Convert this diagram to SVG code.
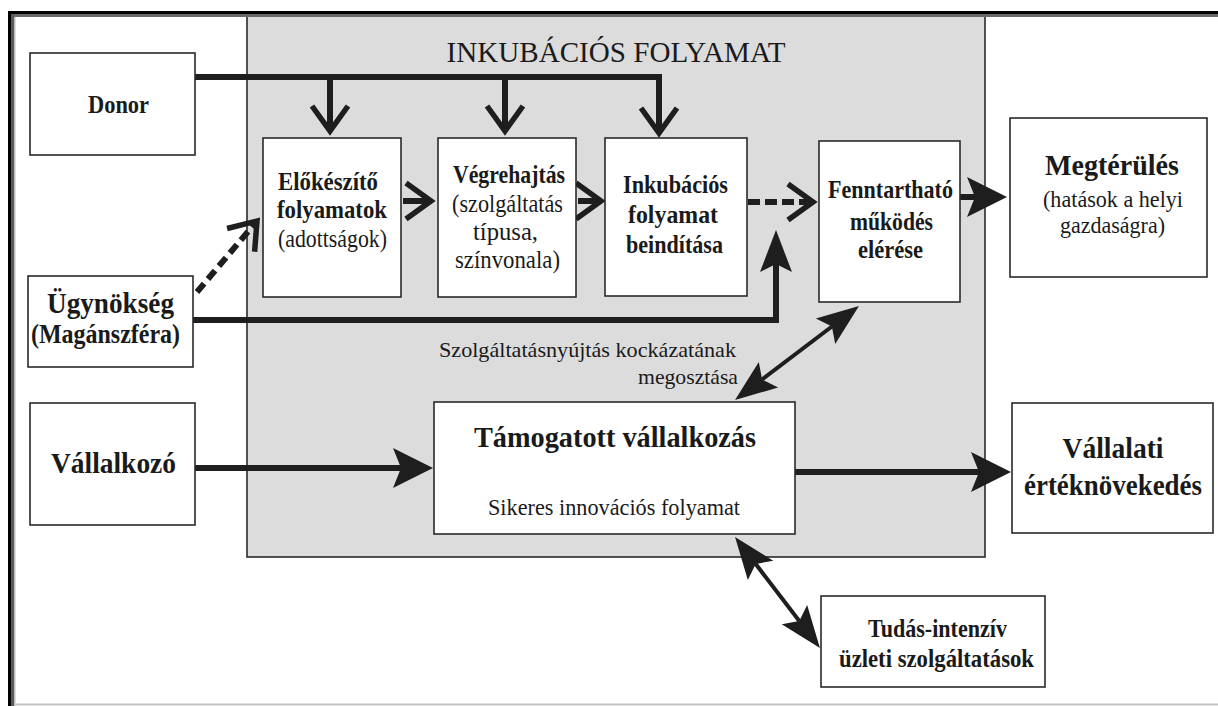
<svg xmlns="http://www.w3.org/2000/svg" width="1218" height="706" viewBox="0 0 1218 706">
<style>
.box{fill:#fff;stroke:#2a2a2a;stroke-width:1.6}
.t{font-family:"Liberation Serif","Times New Roman",serif;fill:#1a1a1a;text-anchor:middle}
.b{font-weight:bold}
.ln{fill:none;stroke:#1e1e1e;stroke-width:6;stroke-linejoin:miter}
.dl{fill:none;stroke:#1e1e1e;stroke-width:4}
</style>
<defs>
<marker id="chev" markerUnits="userSpaceOnUse" viewBox="-30 -22 36 44" markerWidth="36" markerHeight="44" refX="0" refY="0" orient="auto" overflow="visible">
<path d="M-25,-18 L0,0 L-25,18" fill="none" stroke="#1e1e1e" stroke-width="5.5" stroke-linejoin="miter"/>
</marker>
<marker id="tri" markerUnits="userSpaceOnUse" viewBox="-10 -22 46 44" markerWidth="46" markerHeight="44" refX="0" refY="0" orient="auto" overflow="visible">
<path d="M32,0 L-8,-20 L0,0 L-8,20 Z" fill="#1e1e1e"/>
</marker>
<marker id="tri2" markerUnits="userSpaceOnUse" viewBox="-10 -18 46 36" markerWidth="46" markerHeight="36" refX="0" refY="0" orient="auto-start-reverse" overflow="visible">
<path d="M34,0 L-8,-16 L0,0 L-8,16 Z" fill="#1e1e1e"/>
</marker>
</defs>
<rect x="0" y="0" width="1218" height="706" fill="#fff"/>
<g id="incubation-area">
<rect x="247" y="14" width="738" height="543" fill="#dcdcdc" stroke="#2a2a2a" stroke-width="1.6"/>
<text class="t" x="616" y="62" font-size="30" textLength="339" lengthAdjust="spacingAndGlyphs">INKUBÁCIÓS FOLYAMAT</text>
</g>
<g id="frame">
<rect x="8" y="11" width="1210" height="3" fill="#000"/>
<rect x="11" y="14" width="1207" height="3" fill="#6a6a6a"/>
<rect x="8" y="11" width="3" height="695" fill="#000"/>
<rect x="11" y="14" width="3" height="692" fill="#5a5a5a"/>
<rect x="14" y="17" width="1.5" height="689" fill="#bdbdbd"/>
<rect x="14" y="703.5" width="1204" height="2" fill="#c4c4c4"/>
</g>
<g id="connectors">
<path class="ln" d="M195,77 H659 V133" marker-end="url(#chev)"/>
<path class="ln" d="M330,77 V131" marker-end="url(#chev)"/>
<path class="ln" d="M505,77 V131" marker-end="url(#chev)"/>
<path class="ln" d="M403,201 H431" marker-end="url(#chev)"/>
<path class="ln" d="M578,201 H601" marker-end="url(#chev)"/>
<path class="ln" d="M748,202 H813" stroke-dasharray="12 5" marker-end="url(#chev)"/>
<path class="ln" d="M197,292 L257,221" stroke-dasharray="11 6" marker-end="url(#chev)"/>
<path class="ln" d="M193,320 H776 V264" marker-end="url(#tri2)"/>
<path class="ln" d="M960,197 H975" marker-end="url(#tri)"/>
<path class="ln" d="M195,468 H401" marker-end="url(#tri)"/>
<path class="ln" d="M795,472 H979" marker-end="url(#tri)"/>
<path class="dl" d="M762.1,379.5 L831.9,326.5" marker-start="url(#tri2)" marker-end="url(#tri2)"/>
<path class="dl" d="M755.7,564 L799.3,621" marker-start="url(#tri2)" marker-end="url(#tri2)"/>
<text class="t" x="587.5" y="357" font-size="22" textLength="297" lengthAdjust="spacingAndGlyphs">Szolgáltatásnyújtás kockázatának</text>
<text class="t" x="688" y="384" font-size="22" textLength="100" lengthAdjust="spacingAndGlyphs">megosztása</text>
</g>
<g id="donor">
<rect class="box" x="30" y="53" width="165" height="102"/>
<text class="t b" x="118.5" y="113" font-size="25" textLength="61" lengthAdjust="spacingAndGlyphs">Donor</text>
</g>
<g id="ugynokseg">
<rect class="box" x="28" y="276" width="165" height="91"/>
<text class="t b" x="110.5" y="313" font-size="30" textLength="127" lengthAdjust="spacingAndGlyphs">Ügynökség</text>
<text class="t b" x="105.5" y="343" font-size="27" textLength="149" lengthAdjust="spacingAndGlyphs">(Magánszféra)</text>
</g>
<g id="vallalkozo">
<rect class="box" x="30" y="403" width="165" height="122"/>
<text class="t b" x="113.5" y="473" font-size="30" textLength="125" lengthAdjust="spacingAndGlyphs">Vállalkozó</text>
</g>
<g id="elokeszito">
<rect class="box" x="263" y="138" width="138" height="159"/>
<text class="t b" x="328" y="190" font-size="26" textLength="100" lengthAdjust="spacingAndGlyphs">Előkészítő</text>
<text class="t b" x="332" y="218" font-size="26" textLength="110" lengthAdjust="spacingAndGlyphs">folyamatok</text>
<text class="t" x="332.5" y="247" font-size="26" textLength="109" lengthAdjust="spacingAndGlyphs">(adottságok)</text>
</g>
<g id="vegrehajtas">
<rect class="box" x="438" y="138" width="138" height="159"/>
<text class="t b" x="509" y="183" font-size="26" textLength="112" lengthAdjust="spacingAndGlyphs">Végrehajtás</text>
<text class="t" x="507.5" y="212" font-size="26" textLength="111" lengthAdjust="spacingAndGlyphs">(szolgáltatás</text>
<text class="t" x="505.5" y="240" font-size="26" textLength="65" lengthAdjust="spacingAndGlyphs">típusa,</text>
<text class="t" x="507.5" y="268" font-size="26" textLength="105" lengthAdjust="spacingAndGlyphs">színvonala)</text>
</g>
<g id="inkubacios">
<rect class="box" x="605" y="138" width="142" height="158"/>
<text class="t b" x="675.5" y="193" font-size="26" textLength="105" lengthAdjust="spacingAndGlyphs">Inkubációs</text>
<text class="t b" x="673" y="223" font-size="26" textLength="90" lengthAdjust="spacingAndGlyphs">folyamat</text>
<text class="t b" x="674.5" y="253" font-size="26" textLength="97" lengthAdjust="spacingAndGlyphs">beindítása</text>
</g>
<g id="fenntarthato">
<rect class="box" x="819" y="141" width="141" height="161"/>
<text class="t b" x="890.5" y="198" font-size="26" textLength="125" lengthAdjust="spacingAndGlyphs">Fenntartható</text>
<text class="t b" x="891.5" y="230" font-size="26" textLength="83" lengthAdjust="spacingAndGlyphs">működés</text>
<text class="t b" x="890.5" y="258" font-size="26" textLength="65" lengthAdjust="spacingAndGlyphs">elérése</text>
</g>
<g id="megterules">
<rect class="box" x="1010" y="118" width="197" height="159"/>
<text class="t b" x="1112" y="175" font-size="30" textLength="134" lengthAdjust="spacingAndGlyphs">Megtérülés</text>
<text class="t" x="1113" y="207" font-size="24" textLength="140" lengthAdjust="spacingAndGlyphs">(hatások a helyi</text>
<text class="t" x="1112.5" y="233" font-size="24" textLength="105" lengthAdjust="spacingAndGlyphs">gazdaságra)</text>
</g>
<g id="tamogatott">
<rect class="box" x="434" y="402" width="361" height="132"/>
<text class="t b" x="615" y="447" font-size="29" textLength="282" lengthAdjust="spacingAndGlyphs">Támogatott vállalkozás</text>
<text class="t" x="614" y="515" font-size="23" textLength="252" lengthAdjust="spacingAndGlyphs">Sikeres innovációs folyamat</text>
</g>
<g id="vallalati">
<rect class="box" x="1012" y="403" width="201" height="130"/>
<text class="t b" x="1113" y="458" font-size="29" textLength="101" lengthAdjust="spacingAndGlyphs">Vállalati</text>
<text class="t b" x="1113" y="495" font-size="29" textLength="178" lengthAdjust="spacingAndGlyphs">értéknövekedés</text>
</g>
<g id="tudas">
<rect class="box" x="821" y="596" width="224" height="91"/>
<text class="t b" x="937.5" y="637" font-size="25" textLength="139" lengthAdjust="spacingAndGlyphs">Tudás-intenzív</text>
<text class="t b" x="936.5" y="667" font-size="25" textLength="195" lengthAdjust="spacingAndGlyphs">üzleti szolgáltatások</text>
</g>
</svg>
